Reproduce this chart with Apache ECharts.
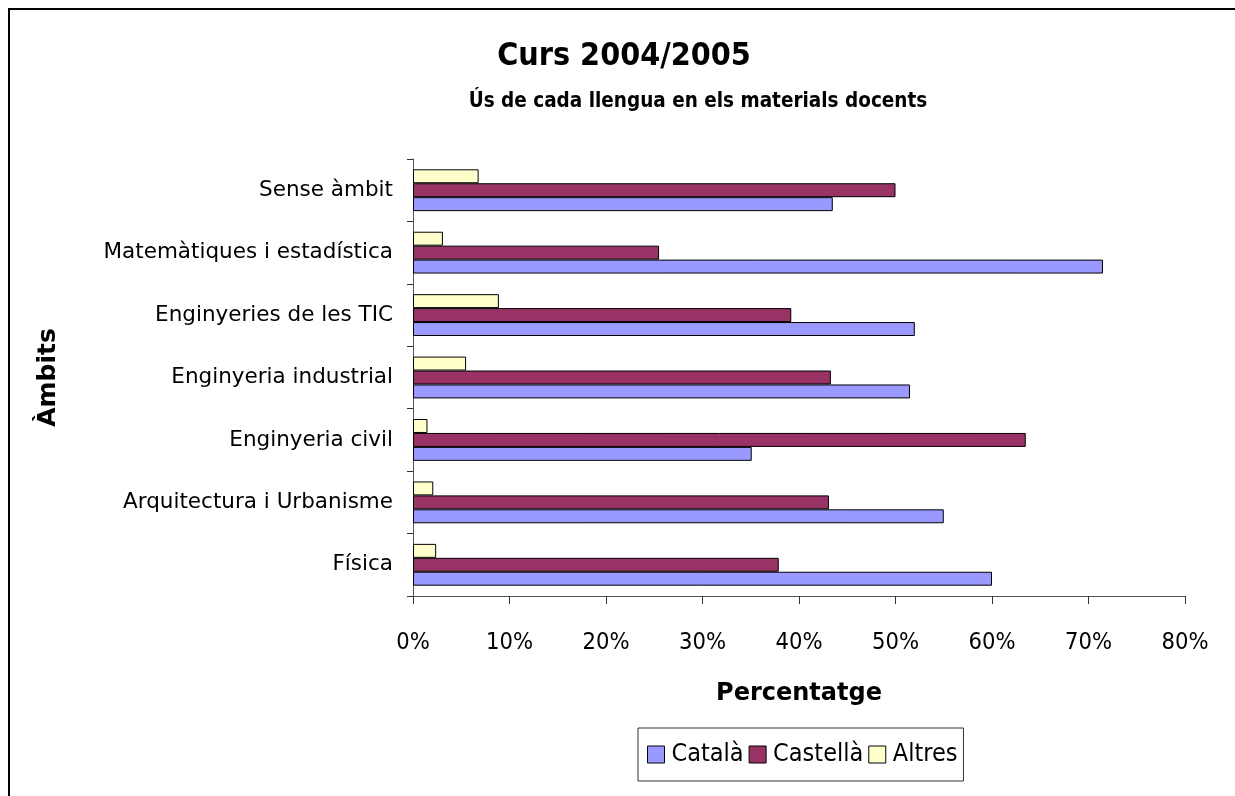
<html>
<head>
    <meta charset="utf-8">
    <title>Curs 2004/2005</title>
    <script src="https://cdn.jsdelivr.net/npm/echarts@6/dist/echarts.min.js"></script>
    <style>
        html, body { margin: 0; padding: 0; background: #fff; }
        #chart { width: 1235px; height: 796px; }
    </style>
</head>
<body>
<div id="chart"></div>
<script>
    // àmbits, de baix a dalt
    var ambits = ['Física', 'Arquitectura i Urbanisme', 'Enginyeria civil', 'Enginyeria industrial',
        'Enginyeries de les TIC', 'Matemàtiques i estadística', 'Sense àmbit'];
    // percentatges per llengua
    var catala = [60.0, 55.0, 35.1, 51.5, 52.0, 71.5, 43.5];
    var castella = [37.9, 43.1, 63.5, 43.3, 39.2, 25.5, 50.0];
    var altres = [2.4, 2.1, 1.5, 5.5, 8.9, 3.1, 6.8];
    var llengues = ['Català', 'Castellà', 'Altres'];
    var colors = ['#9999FF', '#993366', '#FFFFCC'];

    var cond = '"DejaVu Sans Condensed", "DejaVu Sans", sans-serif';
    var wide = '"DejaVu Sans", sans-serif';
    var barStyle = function (c) {
        return { color: c, borderColor: '#000', borderWidth: 1 };
    };

    var option = {
        animation: false,
        textStyle: { fontFamily: cond, color: '#000' },
        graphic: [{
            type: 'rect',
            shape: { x: 9, y: 9, width: 1300, height: 900 },
            style: { fill: 'none', stroke: '#000', lineWidth: 2 }
        }, {
            type: 'text', x: 624, y: 57,
            style: { text: 'Curs 2004/2005', font: 'bold 32px ' + cond, fill: '#000', textAlign: 'center', textVerticalAlign: 'middle' }
        }, {
            type: 'text', x: 698, y: 102,
            style: { text: 'Ús de cada llengua en els materials docents', font: 'bold 20.5px ' + cond, fill: '#000', textAlign: 'center', textVerticalAlign: 'middle' }
        }],
        legend: {
            data: llengues,
            top: 728,
            left: 638,
            padding: [14, 6, 14, 9],
            itemGap: 5,
            itemWidth: 17,
            itemHeight: 17,
            icon: 'rect',
            borderColor: '#333',
            borderWidth: 1,
            itemStyle: { borderColor: '#000', borderWidth: 1 },
            textStyle: { fontSize: 25, fontFamily: cond, color: '#000', padding: [0, 0, 0, 2] }
        },
        grid: { left: 413, right: 50, top: 159, bottom: 200 },
        xAxis: {
            type: 'value',
            min: 0, max: 80, interval: 10,
            name: 'Percentatge',
            nameLocation: 'middle',
            nameGap: 86,
            nameTextStyle: { fontSize: 24, fontWeight: 'bold', fontFamily: wide, color: '#000' },
            axisLine: { show: true, lineStyle: { color: '#555', width: 1 } },
            axisTick: { show: true, length: 8, lineStyle: { color: '#333' } },
            splitLine: { show: false },
            axisLabel: { formatter: '{value}%', fontSize: 23.5, margin: 35, color: '#000', fontFamily: cond }
        },
        yAxis: {
            type: 'category',
            data: ambits,
            name: 'Àmbits',
            nameLocation: 'middle',
            nameGap: 352,
            nameRotate: 90,
            nameTextStyle: { fontSize: 25, fontWeight: 'bold', fontFamily: wide, color: '#000' },
            axisLine: { show: true, lineStyle: { color: '#555', width: 1 } },
            axisTick: { show: true, length: 6, lineStyle: { color: '#333' } },
            axisLabel: { fontSize: 21.5, margin: 20, color: '#000', fontFamily: wide }
        },
        // ordre invertit perquè Català quedi a baix de cada grup
        series: [{
            name: llengues[2], type: 'bar', data: altres,
            barGap: '0%', barCategoryGap: '33%', itemStyle: barStyle(colors[2])
        }, {
            name: llengues[1], type: 'bar', data: castella,
            barGap: '0%', barCategoryGap: '33%', itemStyle: barStyle(colors[1])
        }, {
            name: llengues[0], type: 'bar', data: catala,
            barGap: '0%', barCategoryGap: '33%', itemStyle: barStyle(colors[0])
        }]
    };

    var chart = echarts.init(document.getElementById('chart'));
    chart.setOption(option);
</script>
</body>
</html>
